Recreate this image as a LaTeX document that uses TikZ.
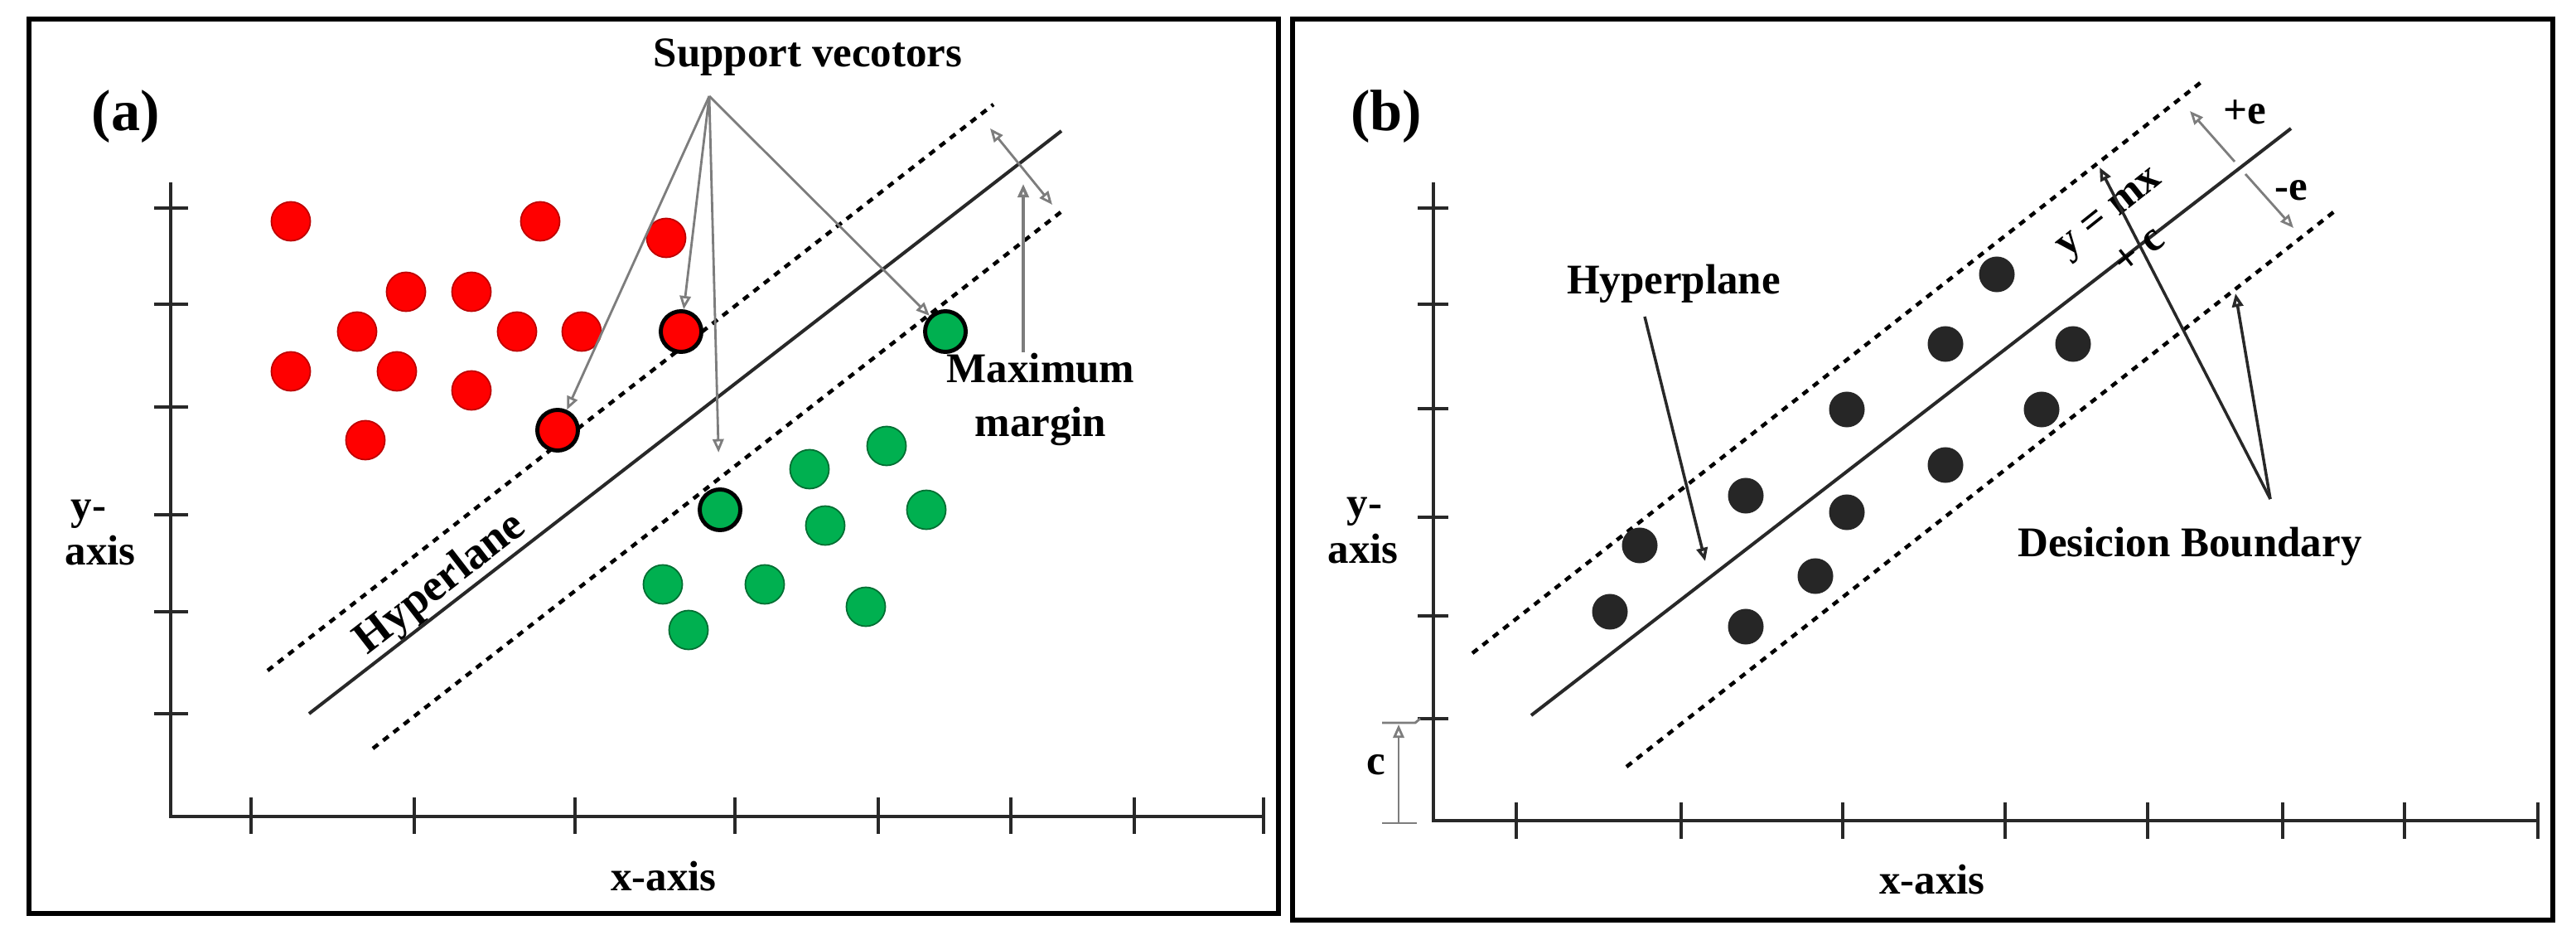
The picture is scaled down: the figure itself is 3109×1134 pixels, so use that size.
\documentclass[tikz,border=0pt]{standalone}
\usepackage{fontspec}
\setmainfont{Liberation Serif}
\usetikzlibrary{arrows.meta}
\definecolor{redfill}{RGB}{255,0,0}
\definecolor{redline}{RGB}{190,0,0}
\definecolor{greenfill}{RGB}{0,176,80}
\definecolor{greenline}{RGB}{0,110,50}
\definecolor{dotdark}{RGB}{38,38,38}
\definecolor{conngray}{RGB}{125,125,125}
\definecolor{linedark}{RGB}{40,40,40}
\begin{document}
\begin{tikzpicture}[x=0.01cm,y=-0.01cm,
 frame/.style={line width=1.7pt, black},
 axisline/.style={line width=1.3pt, linedark},
 tickline/.style={line width=1.3pt, linedark},
 hyper/.style={line width=1.15pt, linedark},
 marginline/.style={line width=1.3pt, black, dash pattern=on 2.3pt off 2.2pt},
 lab/.style={font=\fontsize{14.5}{17.4}\selectfont\bfseries, inner sep=0pt, text=black},
 biglab/.style={font=\fontsize{20}{24}\selectfont\bfseries, inner sep=0pt, text=black},
 reddot/.style={circle, fill=redfill, draw=redline, line width=0.5pt, minimum size=0.47cm, inner sep=0pt},
 greendot/.style={circle, fill=greenfill, draw=greenline, line width=0.5pt, minimum size=0.47cm, inner sep=0pt},
 redsv/.style={reddot, draw=black, line width=1.4pt, minimum size=0.49cm},
 greensv/.style={greendot, draw=black, line width=1.4pt, minimum size=0.49cm},
 blackdot/.style={circle, fill=dotdark, draw=none, minimum size=0.43cm, inner sep=0pt},
 tipopen/.tip={Triangle[open, length=4.6pt, width=3.8pt]},
 garrow/.style={line width=0.8pt, conngray, -tipopen},
 gline/.style={line width=0.8pt, conngray},
 darrow/.style={line width=1pt, linedark, -tipopen},
]
\path[use as bounding box, fill=white] (0,0) rectangle (3109,1134);

% ---------- frames ----------
\draw[frame] (35,23) rectangle (1543,1102);
\draw[frame] (1560,23) rectangle (3081,1110);

% ================= PANEL (a) =================
\node[biglab, anchor=base] (labA) at (152,158) {(a)};
\coordinate (oA) at (206,985);
\draw[axisline] (206,220) -- (oA) -- (1527,985);
\foreach \yy in {251,367,491,621,738,861} \draw[tickline] (186,\yy) -- (227,\yy);
\foreach \xx in {303,500,694,887,1060,1220,1369,1525} \draw[tickline] (\xx,962) -- (\xx,1006);
\node[lab, anchor=base west] (yA1) at (85,627) {y-};
\node[lab, anchor=base west] (yA2) at (78,682) {axis};
\node[lab, anchor=base] (xA) at (801,1074) {x-axis};

% hyperplane and margins
\coordinate (hA1) at (373,861); \coordinate (hA2) at (1281,158);
\coordinate (uA1) at (323,809); \coordinate (uA2) at (1199,126);
\coordinate (lA1) at (450,903); \coordinate (lA2) at (1284,253);
\draw[hyper] (hA1) -- (hA2);
\draw[marginline] (uA1) -- (uA2);
\draw[marginline] (lA1) -- (lA2);
\node[lab, font=\fontsize{15.5}{18}\selectfont\bfseries, rotate=37.75] (hypA) at (532,705) {Hyperlane};

% red dots
\node[reddot] (r1) at (351,267) {};
\node[reddot] (r2) at (652,267) {};
\node[reddot] (r3) at (804,287) {};
\node[reddot] (r4) at (490,352) {};
\node[reddot] (r5) at (569,352) {};
\node[reddot] (r6) at (431,400) {};
\node[reddot] (r7) at (624,400) {};
\node[reddot] (r8) at (702,400) {};
\node[reddot] (r9) at (351,448) {};
\node[reddot] (r10) at (479,448) {};
\node[reddot] (r11) at (569,471) {};
\node[reddot] (r12) at (441,531) {};
\node[redsv] (rsv1) at (673,519) {};
\node[redsv] (rsv2) at (822,400) {};
% green dots
\node[greendot] (g1) at (1070,538) {};
\node[greendot] (g2) at (977,566) {};
\node[greendot] (g3) at (1118,615) {};
\node[greendot] (g4) at (996,634) {};
\node[greendot] (g5) at (800,705) {};
\node[greendot] (g6) at (923,705) {};
\node[greendot] (g7) at (1045,732) {};
\node[greendot] (g8) at (831,760) {};
\node[greensv] (gsv1) at (869,615) {};
\node[greensv] (gsv2) at (1141,400) {};

% support vectors label and arrows
\node[lab, anchor=base] (svlab) at (975,81) {Support vecotors};
\coordinate (svApex) at (856,116);
\draw[garrow] (svApex) -- (rsv1);
\draw[garrow] (svApex) -- (rsv2);
\draw[garrow, shorten >=12pt] (svApex) -- (gsv1);
\draw[garrow] (svApex) -- (gsv2);

% maximum margin
\coordinate (mmU) at (1195,155); \coordinate (mmL) at (1270,247);
\draw[gline, tipopen-tipopen] (mmU) -- (mmL);
\node[lab, font=\fontsize{14.5}{18.5}\selectfont\bfseries, align=center, anchor=north] (maxA) at (1256,425) {Maximum\\margin};
\coordinate (mmV) at (1235,222);
\draw[garrow, line width=1pt] (maxA.north -| mmV) -- (mmV);

% ================= PANEL (b) =================
\node[biglab, anchor=base] (labB) at (1673,158) {(b)};
\coordinate (oB) at (1730,990);
\draw[axisline] (1730,220) -- (oB) -- (3063,990);
\foreach \yy in {251,367,493,624,743,867} \draw[tickline] (1711,\yy) -- (1748,\yy);
\foreach \xx in {1830,2029,2224,2420,2592,2755,2902,3063} \draw[tickline] (\xx,968) -- (\xx,1012);
\node[lab, anchor=base west] (yB1) at (1625,624) {y-};
\node[lab, anchor=base west] (yB2) at (1602,680) {axis};
\node[lab, anchor=base] (xB) at (2332,1078) {x-axis};

% c bracket
\coordinate (cBot) at (1688,993); \coordinate (cTop) at (1688,874);
\draw[gline] (1668,993) -- (1710,993);
\draw[gline] (1668,872) -- (1708,872) -- (1714,867);
\draw[garrow] (cBot) -- (cTop);
\node[lab, anchor=base] (cB) at (1661,934) {c};

% lines
\coordinate (hB1) at (1848,863); \coordinate (hB2) at (2765,155);
\coordinate (uB1) at (1777,788); \coordinate (uB2) at (2658,98);
\coordinate (lB1) at (1963,925); \coordinate (lB2) at (2820,253);
\draw[hyper] (hB1) -- (hB2);
\draw[marginline] (uB1) -- (uB2);
\draw[marginline] (lB1) -- (lB2);

% dots
\node[blackdot] (b1) at (2410,331) {};
\node[blackdot] (b2) at (2348,415) {};
\node[blackdot] (b3) at (2502,415) {};
\node[blackdot] (b4) at (2229,494) {};
\node[blackdot] (b5) at (2464,494) {};
\node[blackdot] (b6) at (2348,561) {};
\node[blackdot] (b7) at (2107,598) {};
\node[blackdot] (b8) at (2229,618) {};
\node[blackdot] (b9) at (1979,658) {};
\node[blackdot] (b10) at (2191,695) {};
\node[blackdot] (b11) at (1943,738) {};
\node[blackdot] (b12) at (2107,756) {};

% equation
\node[lab, align=center, rotate=38.5] (eqB) at (2564,280) {y = mx\\+ c};

% +e / -e
\coordinate (eU) at (2643,134); \coordinate (eL) at (2768,275);
\coordinate (eG1) at (2697,195); \coordinate (eG2) at (2710,210);
\draw[garrow] (eG1) -- (eU);
\draw[garrow] (eG2) -- (eL);
\node[lab, anchor=base] (peB) at (2709,150) {+e};
\node[lab, anchor=base] (meB) at (2765,242) {-e};

% hyperplane label (b)
\node[lab, anchor=base] (hypB) at (2020,355) {Hyperplane};
\coordinate (hypBs) at (1985,382); \coordinate (hypBt) at (2058,677);
\draw[darrow] (hypBs) -- (hypBt);

% decision boundary
\node[lab, anchor=base] (dbB) at (2643,672) {Desicion Boundary};
\coordinate (dbApex) at (2740,602);
\coordinate (dbU) at (2534,202); \coordinate (dbL) at (2698,354);
\draw[darrow] (dbApex) -- (dbU);
\draw[darrow] (dbApex) -- (dbL);
\end{tikzpicture}
\end{document}
